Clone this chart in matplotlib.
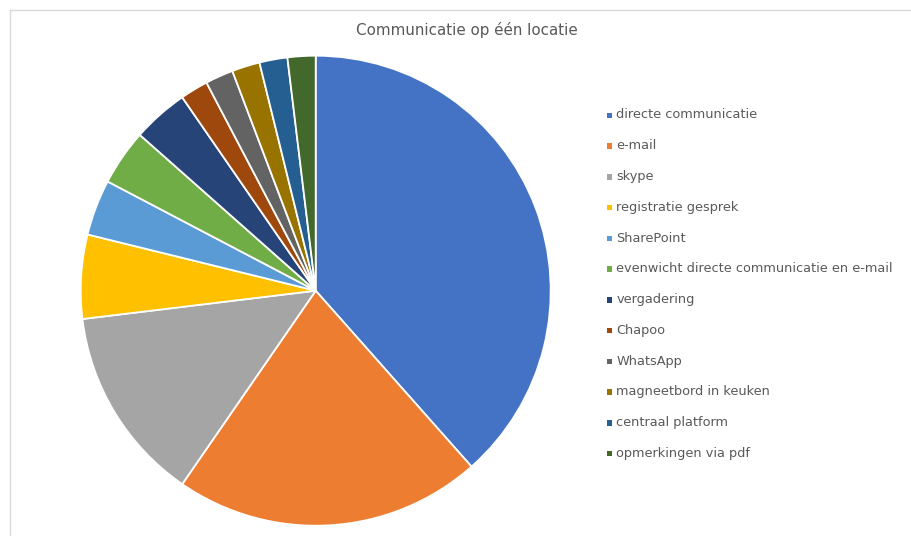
import matplotlib
matplotlib.use("Agg")
import matplotlib.pyplot as plt
from matplotlib.patches import Rectangle
from matplotlib.lines import Line2D

# antwoorden per communicatievorm
labels = [
    "directe communicatie",
    "e-mail",
    "skype",
    "registratie gesprek",
    "SharePoint",
    "evenwicht directe communicatie en e-mail",
    "vergadering",
    "Chapoo",
    "WhatsApp",
    "magneetbord in keuken",
    "centraal platform",
    "opmerkingen via pdf",
]
counts = [20, 11, 7, 3, 2, 2, 2, 1, 1, 1, 1, 1]
colors = ["#4472C4", "#ED7D31", "#A5A5A5", "#FFC000", "#5B9BD5", "#70AD47",
          "#264478", "#9E480E", "#636363", "#997300", "#255E91", "#43682B"]

W, H = 911, 536
fig = plt.figure(figsize=(W / 100, H / 100), dpi=100)
fig.patch.set_facecolor("white")

# pie axes, square in pixels
cx, cy, r = 315.7, 290.7, 235
ax = fig.add_axes([(cx - r) / W, (H - cy - r) / H, 2 * r / W, 2 * r / H])
wedges, _ = ax.pie(counts, colors=colors, startangle=90, counterclock=False,
                   wedgeprops=dict(edgecolor="white", linewidth=1.3))
ax.set_xlim(-1, 1)
ax.set_ylim(-1, 1)
ax.set_aspect("auto")
ax.axis("off")

fig.text(467 / W, 1 - 30.5 / H, "Communicatie op één locatie", ha="center", va="center",
         fontsize=10.9, color="#595959")

# legend
for i, (lab, w) in enumerate(zip(labels, wedges)):
    y = 115 + i * 30.75
    fig.patches.append(Rectangle(((606.5) / W, 1 - (y + 3.2) / H), 5.5 / W, 5.5 / H,
                                 transform=fig.transFigure, facecolor=w.get_facecolor(),
                                 edgecolor="none"))
    fig.text(616.5 / W, 1 - y / H, lab, ha="left", va="center", fontsize=9.25, color="#595959")

# chart border
fig.lines.append(Line2D([9.5 / W, 1], [1 - 10 / H, 1 - 10 / H], transform=fig.transFigure,
                        color="#D9D9D9", linewidth=1))
fig.lines.append(Line2D([9.5 / W, 9.5 / W], [0, 1 - 10 / H], transform=fig.transFigure,
                        color="#D9D9D9", linewidth=1))

fig.savefig("out.png", dpi=100)
